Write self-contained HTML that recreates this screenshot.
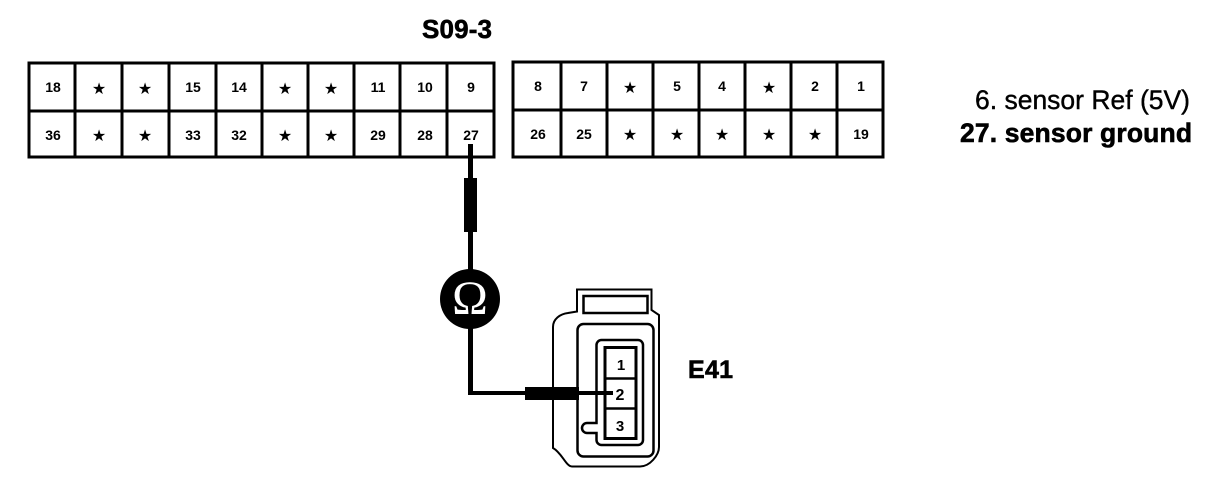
<!DOCTYPE html>
<html><head><meta charset="utf-8"><style>
html,body{margin:0;padding:0;background:#fff;width:1216px;height:486px;overflow:hidden}
svg{display:block}
text{font-family:"Liberation Sans",sans-serif;fill:#000}
.n{font-size:14px;font-weight:bold;text-anchor:middle}
.s{font-family:"DejaVu Sans",sans-serif;font-size:16px;text-anchor:middle}
.l{fill:none;stroke:#000;stroke-width:3}
.h{stroke:#000;stroke-width:.6px}
</style></head><body>
<svg width="1216" height="486" viewBox="0 0 1216 486" xmlns="http://www.w3.org/2000/svg">
<text class="h" x="422" y="38" font-size="26" font-weight="bold" textLength="70">S09-3</text>

<g shape-rendering="crispEdges">
<rect class="l" x="29" y="63" width="465" height="94"/>
<path class="l" d="M29 111H494M75 63V157M122 63V157M169 63V157M216 63V157M262 63V157M308 63V157M354 63V157M400 63V157M447 63V157"/>
<rect class="l" x="513" y="62" width="370" height="95"/>
<path class="l" d="M513 110H883M561 62V157M607 62V157M653 62V157M699 62V157M745 62V157M791 62V157M837 62V157"/>
</g>

<g>
<text class="n" x="53" y="92">18</text><text class="s" x="99" y="94">★</text><text class="s" x="145" y="94">★</text><text class="n" x="193" y="92">15</text><text class="n" x="239" y="92">14</text><text class="s" x="285" y="94">★</text><text class="s" x="331" y="94">★</text><text class="n" x="378" y="92">11</text><text class="n" x="425" y="92">10</text><text class="n" x="471" y="92">9</text>
<text class="n" x="53" y="140">36</text><text class="s" x="99" y="141">★</text><text class="s" x="145" y="141">★</text><text class="n" x="193" y="140">33</text><text class="n" x="239" y="140">32</text><text class="s" x="285" y="141">★</text><text class="s" x="331" y="141">★</text><text class="n" x="378" y="140">29</text><text class="n" x="425" y="140">28</text><text class="n" x="471" y="140">27</text>
<text class="n" x="538" y="91">8</text><text class="n" x="584" y="91">7</text><text class="s" x="630" y="93">★</text><text class="n" x="677" y="91">5</text><text class="n" x="722" y="91">4</text><text class="s" x="769" y="93">★</text><text class="n" x="815" y="91">2</text><text class="n" x="861" y="91">1</text>
<text class="n" x="538" y="139">26</text><text class="n" x="584" y="139">25</text><text class="s" x="630" y="140">★</text><text class="s" x="677" y="140">★</text><text class="s" x="722" y="140">★</text><text class="s" x="769" y="140">★</text><text class="s" x="815" y="140">★</text><text class="n" x="861" y="139">19</text>
</g>

<text x="975" y="109" font-size="26.5" textLength="215" style="stroke:#000;stroke-width:.4px">6. sensor Ref (5V)</text>
<text class="h" x="960" y="142" font-size="26.5" font-weight="bold" textLength="232">27. sensor ground</text>

<g shape-rendering="crispEdges">
<rect x="468" y="144" width="5" height="250"/>
<rect x="464" y="178" width="13" height="54"/>
<rect x="468" y="391" width="146" height="4"/>
<rect x="525" y="387" width="54" height="13"/>
</g>
<circle cx="470" cy="299" r="30" fill="#000"/>
<text x="470" y="314" font-size="48" text-anchor="middle" style="font-family:'Liberation Serif',serif;fill:#fff">Ω</text>

<path d="M577 311.5V289.5H651.5V310L659 315V447C659 455 650 466.5 640 466.5H572C566 466.5 562 453 553 448V327C553 319 560 314 568 313Z" fill="none" stroke="#000" stroke-width="2"/>
<rect x="583.5" y="296" width="64" height="17" fill="none" stroke="#000" stroke-width="2.5"/>
<rect x="577.5" y="324" width="76" height="132.5" rx="6" fill="none" stroke="#000" stroke-width="2.5"/>
<path d="M596.5 423V345a5 5 0 0 1 5-5H638a5 5 0 0 1 5 5V440a5 5 0 0 1-5 5H601.5a5 5 0 0 1-5-5V433H587a5 5 0 0 1 0-10Z" fill="none" stroke="#000" stroke-width="2.5"/>
<rect x="605" y="347.5" width="31" height="91" fill="#fff" stroke="#000" stroke-width="3"/>
<path d="M605 378.5H636M605 408.5H636" stroke="#000" stroke-width="2.5"/>
<rect x="579" y="391" width="34" height="4"/>
<text x="621" y="370" font-size="15" font-weight="bold" text-anchor="middle">1</text>
<text x="620" y="400" font-size="16" font-weight="bold" text-anchor="middle">2</text>
<text x="620" y="431" font-size="15" font-weight="bold" text-anchor="middle">3</text>

<text class="h" x="688" y="378" font-size="25" font-weight="bold" textLength="45">E41</text>
</svg>
</body></html>
